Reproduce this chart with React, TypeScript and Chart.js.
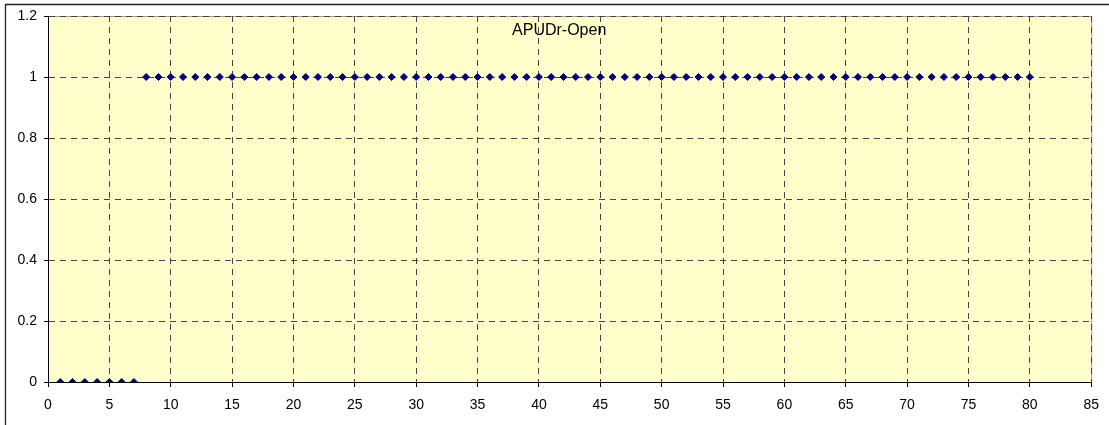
import React, { useEffect, useRef } from "react";
import { Chart, registerables } from "chart.js";

Chart.register(...registerables);

const chartTitle = "APUDr-Open";
const xValues: number[] = [
  1, 2, 3, 4, 5, 6, 7, 8, 9, 10, 11, 12, 13, 14, 15, 16, 17, 18, 19, 20,
  21, 22, 23, 24, 25, 26, 27, 28, 29, 30, 31, 32, 33, 34, 35, 36, 37, 38, 39, 40,
  41, 42, 43, 44, 45, 46, 47, 48, 49, 50, 51, 52, 53, 54, 55, 56, 57, 58, 59, 60,
  61, 62, 63, 64, 65, 66, 67, 68, 69, 70, 71, 72, 73, 74, 75, 76, 77, 78, 79, 80,
];
const yValues: number[] = [
  0, 0, 0, 0, 0, 0, 0, 1, 1, 1, 1, 1, 1, 1, 1, 1, 1, 1, 1, 1,
  1, 1, 1, 1, 1, 1, 1, 1, 1, 1, 1, 1, 1, 1, 1, 1, 1, 1, 1, 1,
  1, 1, 1, 1, 1, 1, 1, 1, 1, 1, 1, 1, 1, 1, 1, 1, 1, 1, 1, 1,
  1, 1, 1, 1, 1, 1, 1, 1, 1, 1, 1, 1, 1, 1, 1, 1, 1, 1, 1, 1,
];
const xMin = 0;
const xMax = 85;
const xStep = 5;
const yMin = 0;
const yMax = 1.2;
const yStep = 0.2;

const W = 1109;
const H = 425;

const decorPlugin = {
  id: "decor",
  beforeDraw(chart: any) {
    const { ctx, chartArea } = chart;
    ctx.save();
    ctx.fillStyle = "#ffffff";
    ctx.fillRect(0, 0, chart.width, chart.height);
    ctx.strokeStyle = "#222222";
    ctx.lineWidth = 1.3;
    ctx.beginPath();
    ctx.moveTo(5.5, chart.height + 2);
    ctx.lineTo(5.5, 4.5);
    ctx.lineTo(chart.width + 2, 4.5);
    ctx.stroke();
    ctx.fillStyle = "#ffffcc";
    ctx.fillRect(chartArea.left, chartArea.top, chartArea.right - chartArea.left, chartArea.bottom - chartArea.top);
    ctx.strokeStyle = "#9a9a9a";
    ctx.lineWidth = 1;
    ctx.strokeRect(chartArea.left + 0.5, chartArea.top + 0.5, chartArea.right - chartArea.left, chartArea.bottom - chartArea.top);
    ctx.restore();
  },
  afterDatasetsDraw(chart: any) {
    const { ctx, chartArea } = chart;
    ctx.save();
    ctx.fillStyle = "#000000";
    ctx.font = "16px Arial";
    ctx.textAlign = "center";
    ctx.textBaseline = "alphabetic";
    const cx = chartArea.left + (chartArea.right - chartArea.left) * 0.49;
    ctx.fillText(chartTitle, cx, chartArea.top + 18.5);
    ctx.restore();
  },
};

export default function App() {
  const ref = useRef<HTMLCanvasElement | null>(null);
  useEffect(() => {
    document.body.style.margin = "0";
    if (!ref.current) return;
    const points = xValues.map((x, i) => ({ x, y: yValues[i] }));
    const tickFont = { family: "Arial", size: 14 };
    const chart = new Chart(ref.current, {
      type: "scatter",
      data: {
        datasets: [
          {
            label: chartTitle,
            data: points,
            pointStyle: "rectRot",
            pointRadius: 3.5,
            pointBorderWidth: 1,
            backgroundColor: "#000080",
            borderColor: "#000080",
            showLine: false,
          },
        ],
      },
      options: {
        responsive: false,
        animation: false,
        layout: { padding: { left: 0, top: 16, right: 16, bottom: 0 } },
        plugins: {
          legend: { display: false },
          tooltip: { enabled: false },
          title: { display: false },
        },
        scales: {
          x: {
            type: "linear",
            min: xMin,
            max: xMax,
            ticks: { stepSize: xStep, color: "#000", font: tickFont, padding: 10, maxRotation: 0 },
            grid: { color: "#444444", lineWidth: 1, tickLength: 5, tickColor: "#000", drawOnChartArea: true },
            border: { display: true, color: "#000", width: 1, dash: [6, 5] },
            afterFit: (s: any) => { s.height = 43; },
          },
          y: {
            type: "linear",
            min: yMin,
            max: yMax,
            ticks: {
              stepSize: yStep,
              color: "#000",
              font: tickFont,
              padding: 7,
              callback: (v: any) => String(Math.round(Number(v) * 10) / 10),
            },
            grid: { color: "#444444", lineWidth: 1, tickLength: 4, tickColor: "#000" },
            border: { display: true, color: "#000", width: 1, dash: [6, 5] },
            afterFit: (s: any) => { s.width = 48; },
          },
        },
      },
      plugins: [decorPlugin],
    } as any);
    return () => chart.destroy();
  }, []);
  return <canvas ref={ref} width={W} height={H} style={{ display: "block" }} />;
}
